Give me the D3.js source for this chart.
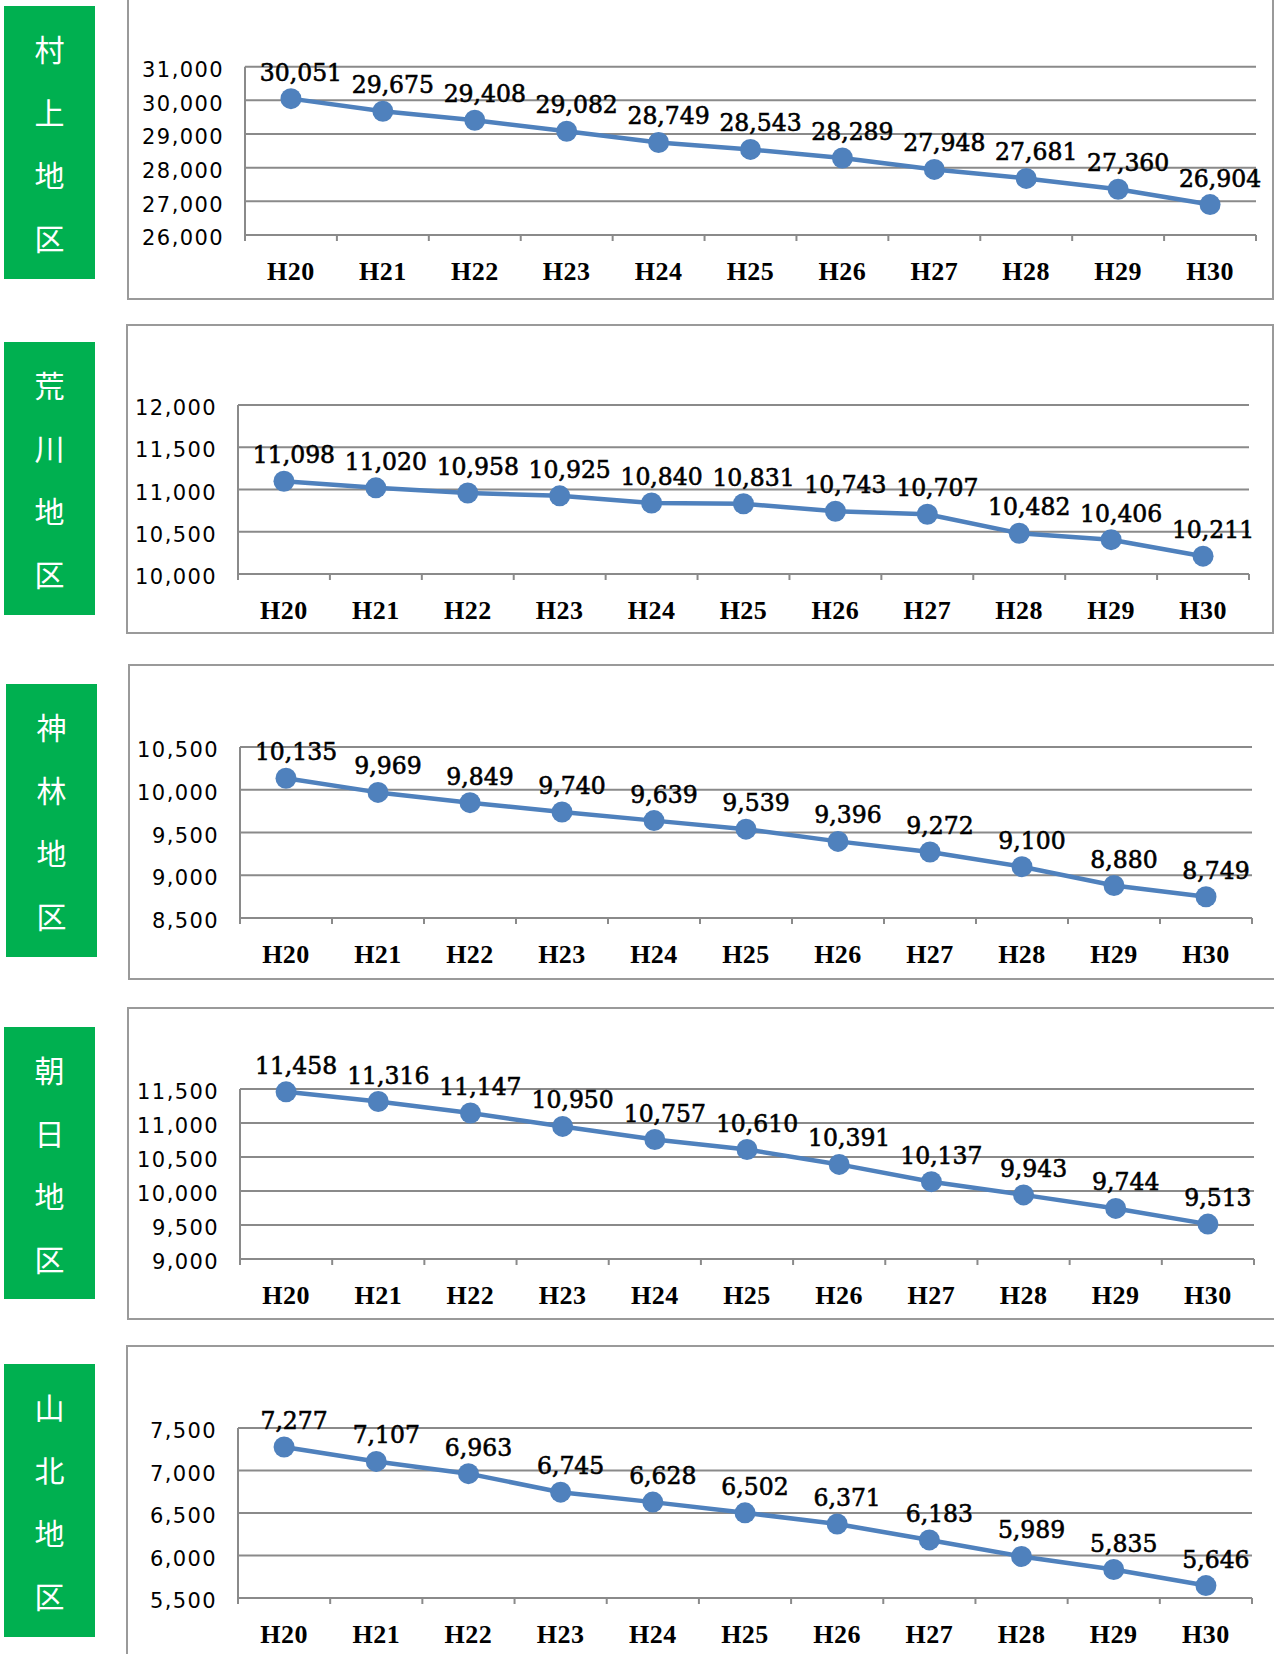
<!DOCTYPE html>
<html lang="ja">
<head>
<meta charset="utf-8">
<title>地区別人口の推移</title>
<script src="https://cdn.jsdelivr.net/npm/d3@7"></script>
<style>
  html, body { margin: 0; padding: 0; background: #fff; }
  svg { display: block; }
</style>
</head>
<body>
<svg id="chart" width="1274" height="1654"></svg>
<script>
// 年度（平成）
const years = ["H20", "H21", "H22", "H23", "H24", "H25", "H26", "H27", "H28", "H29", "H30"];

// 地区名
const districtNames = ["村上地区", "荒川地区", "神林地区", "朝日地区", "山北地区"];

// 地区別人口
const murakami    = [30051, 29675, 29408, 29082, 28749, 28543, 28289, 27948, 27681, 27360, 26904];
const arakawa     = [11098, 11020, 10958, 10925, 10840, 10831, 10743, 10707, 10482, 10406, 10211];
const kamihayashi = [10135, 9969, 9849, 9740, 9639, 9539, 9396, 9272, 9100, 8880, 8749];
const asahi       = [11458, 11316, 11147, 10950, 10757, 10610, 10391, 10137, 9943, 9744, 9513];
const sanpoku     = [7277, 7107, 6963, 6745, 6628, 6502, 6371, 6183, 5989, 5835, 5646];

// 縦軸の目盛
const murakamiTicks    = [26000, 27000, 28000, 29000, 30000, 31000];
const arakawaTicks     = [10000, 10500, 11000, 11500, 12000];
const kamihayashiTicks = [8500, 9000, 9500, 10000, 10500];
const asahiTicks       = [9000, 9500, 10000, 10500, 11000, 11500];
const sanpokuTicks     = [5500, 6000, 6500, 7000, 7500];

const seriesList = [murakami, arakawa, kamihayashi, asahi, sanpoku];
const tickList = [murakamiTicks, arakawaTicks, kamihayashiTicks, asahiTicks, sanpokuTicks];

// 各パネルの配置（枠・プロット領域・見出し帯）
const layout = [
  { box: [128, -2, 1273, 299],  plot: [245, 66.7, 1256, 235], tag: [4, 6, 95, 279] },
  { box: [127, 325, 1273, 633], plot: [238, 405, 1249, 574],  tag: [4, 342, 95, 615] },
  { box: [129, 665, 1276, 979], plot: [240, 747, 1252, 918],  tag: [6, 684, 97, 957] },
  { box: [128, 1008, 1276, 1319], plot: [240, 1089, 1254, 1259], tag: [4, 1027, 95, 1299] },
  { box: [127, 1346, 1276, 1660], plot: [238, 1428, 1252, 1598], tag: [4, 1364, 95, 1637] }
];

const LINE_COLOR = "#4F81BD";
const GRID_COLOR = "#8a8a8a";
const BOX_COLOR = "#9a9a9a";
const TAG_COLOR = "#00B050";
const fmt = d3.format(",");

const svg = d3.select("#chart");
svg.append("rect").attr("width", 1274).attr("height", 1654).attr("fill", "#fff");

seriesList.forEach((values, i) => {
  const L = layout[i];
  const ticks = tickList[i];
  const g = svg.append("g").attr("class", "panel");

  // 見出し帯（緑）
  const [tx0, ty0, tx1, ty1] = L.tag;
  g.append("rect")
    .attr("x", tx0).attr("y", ty0)
    .attr("width", tx1 - tx0).attr("height", ty1 - ty0)
    .attr("fill", TAG_COLOR);
  const chars = Array.from(districtNames[i]);
  const cy = (ty0 + ty1) / 2;
  const step = 63;
  g.selectAll("text.tag").data(chars).join("text")
    .attr("class", "tag")
    .attr("x", (tx0 + tx1) / 2)
    .attr("y", (d, k) => cy + (k - (chars.length - 1) / 2) * step)
    .attr("text-anchor", "middle")
    .attr("dominant-baseline", "central")
    .attr("fill", "#fff")
    .style("font-family", "'Noto Sans CJK JP', sans-serif")
    .style("font-weight", 400)
    .style("font-size", "30px")
    .text(d => d);

  // グラフ枠
  const [bx0, by0, bx1, by1] = L.box;
  g.append("rect")
    .attr("x", bx0).attr("y", by0)
    .attr("width", bx1 - bx0).attr("height", by1 - by0)
    .attr("fill", "#fff")
    .attr("stroke", BOX_COLOR).attr("stroke-width", 2);

  const [px0, py0, px1, py1] = L.plot;
  const x = d3.scaleBand().domain(years).range([px0, px1]).paddingInner(0).paddingOuter(0);
  const y = d3.scaleLinear().domain(d3.extent(ticks)).range([py1, py0]);

  // 横目盛線
  g.selectAll("line.grid").data(ticks).join("line")
    .attr("class", "grid")
    .attr("x1", px0).attr("x2", px1)
    .attr("y1", d => y(d)).attr("y2", d => y(d))
    .attr("stroke", GRID_COLOR).attr("stroke-width", 2);

  // 縦軸線
  g.append("line")
    .attr("x1", px0).attr("x2", px0)
    .attr("y1", y(ticks[ticks.length - 1])).attr("y2", y(ticks[0]) + 6)
    .attr("stroke", GRID_COLOR).attr("stroke-width", 2);

  // 横軸の区切り目盛
  const bounds = d3.range(1, years.length + 1).map(k => px0 + k * x.step());
  g.selectAll("line.xtick").data(bounds).join("line")
    .attr("class", "xtick")
    .attr("x1", d => d).attr("x2", d => d)
    .attr("y1", py1).attr("y2", py1 + 6)
    .attr("stroke", GRID_COLOR).attr("stroke-width", 2);

  // 縦軸ラベル
  const yAxis = g.append("g")
    .attr("transform", `translate(${px0 - 21},3)`)
    .call(d3.axisLeft(y).tickValues(ticks).tickFormat(fmt).tickSize(0).tickPadding(0));
  yAxis.select(".domain").remove();
  yAxis.selectAll("text")
    .attr("fill", "#000")
    .style("font-family", "'DejaVu Sans', sans-serif")
    .style("font-size", "21px")
    .style("letter-spacing", "1.4px");

  // 横軸ラベル
  const xAxis = g.append("g")
    .attr("transform", `translate(0,${py1 + 45})`)
    .call(d3.axisBottom(x).tickSize(0).tickPadding(0));
  xAxis.select(".domain").remove();
  xAxis.selectAll("text")
    .attr("dy", 0)
    .attr("fill", "#000")
    .style("font-family", "'Liberation Serif', serif")
    .style("font-weight", 700)
    .style("font-size", "26px")
    .style("letter-spacing", "0.5px");

  const pts = values.map((v, k) => ({ year: years[k], value: v }));
  const cx = d => x(d.year) + x.bandwidth() / 2;

  // 折れ線
  g.append("path")
    .datum(pts)
    .attr("fill", "none")
    .attr("stroke", LINE_COLOR)
    .attr("stroke-width", 4.5)
    .attr("stroke-linejoin", "round")
    .attr("d", d3.line().x(cx).y(d => y(d.value)));

  // マーカー
  g.selectAll("circle.pt").data(pts).join("circle")
    .attr("class", "pt")
    .attr("cx", cx).attr("cy", d => y(d.value))
    .attr("r", 10.5)
    .attr("fill", LINE_COLOR);

  // データラベル
  g.selectAll("text.val").data(pts).join("text")
    .attr("class", "val")
    .attr("x", d => cx(d) + 10)
    .attr("y", d => y(d.value) - 18)
    .attr("text-anchor", "middle")
    .attr("fill", "#000")
    .attr("stroke", "#000")
    .attr("stroke-width", 0.6)
    .style("font-family", "'DejaVu Serif', 'Liberation Serif', serif")
    .style("font-size", "23.5px")
    .text(d => fmt(d.value));
});
</script>
</body>
</html>
